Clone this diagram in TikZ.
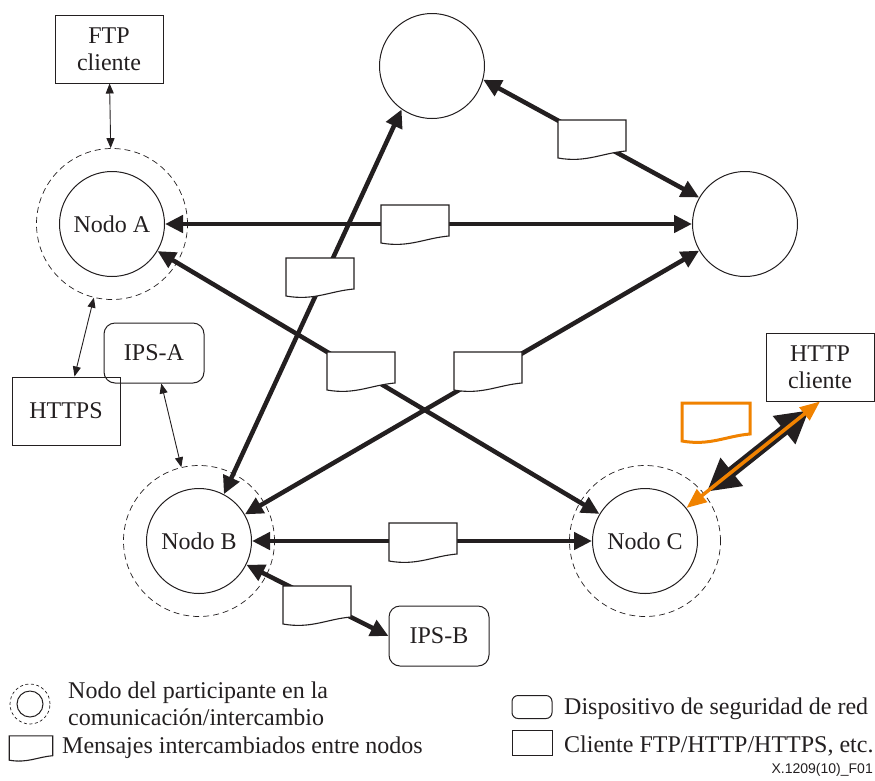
\documentclass[tikz,border=0pt]{standalone}
\usepackage{fontspec}
\setmainfont{Liberation Serif}
\setsansfont{Liberation Sans}
\usetikzlibrary{arrows.meta}
\definecolor{ink}{RGB}{35,31,32}
\definecolor{itorange}{RGB}{240,130,0}

\begin{document}
\begin{tikzpicture}[x=1pt,y=-1pt,color=ink,font=\fontsize{24}{27}\selectfont,
  peer/.style={draw,circle,line width=1pt,minimum size=105pt,inner sep=0pt},
  halo/.style={draw,circle,dash pattern=on 6pt off 4pt,line width=0.7pt,minimum size=151pt,inner sep=0pt},
  client/.style={draw,line width=1pt,minimum width=108pt,minimum height=68pt,align=center,inner sep=0pt},
  ips/.style={draw,line width=1pt,rounded corners=11pt,minimum width=100pt,minimum height=60pt,inner sep=0pt},
  msglink/.style={line width=4.5pt,{Triangle[length=18pt,width=17pt]}-{Triangle[length=18pt,width=17pt]}},
  wire/.style={line width=0.9pt,{Triangle[length=10pt,width=8pt]}-{Triangle[length=10pt,width=8pt]}},
  label/.style={inner sep=0pt,anchor=west,align=left},
  pics/msg/.style={code={
    \draw[fill=white,line width=1.1pt,#1] (-34,-19) -- (34,-19) -- (34,12)
      .. controls (10,14) and (-6,24) .. (-34,19) -- cycle;}}]
  \useasboundingbox (0,0) rectangle (875,780);

  % participants
  \node[peer] (T) at (432,66) {};
  \node[peer] (R) at (745,224) {};
  \node[peer] (A) at (112,224) {Nodo A};
  \node[halo] (Ah) at (112,224) {};
  \node[peer] (B) at (199,541) {Nodo B};
  \node[halo] (Bh) at (199,541) {};
  \node[peer] (C) at (645,541) {Nodo C};
  \node[halo] (Ch) at (645,541) {};

  % clients and security devices
  \node[client] (ftp) at (109,49) {FTP\\cliente};
  \node[client] (https) at (66,411) {HTTPS};
  \node[client] (http) at (820,367) {HTTP\\cliente};
  \node[ips] (ipsa) at (154,353) {IPS-A};
  \node[ips] (ipsb) at (439,636) {IPS-B};

  \draw[wire] (ftp) -- (Ah);
  \draw[wire] (https) -- (Ah);
  \draw[wire] (ipsa) -- (Bh);

  % message exchanges
  \draw[msglink] (T.-15) -- (R.150);
  \draw[msglink] (A) -- (R);
  \draw[msglink] (A) -- (C);
  \draw[msglink] (T.-125) -- (B.62);
  \draw[msglink] (R) -- (B);
  \draw[msglink] (B) -- (C);
  \draw[msglink] (B) -- (ipsb.west);
  \draw[line width=11pt,{Triangle[length=32pt,width=34pt]}-{Triangle[length=32pt,width=34pt]},
    shorten <=26pt,shorten >=14pt] (C) -- (http.south);
  \draw[itorange,line width=3.5pt,{Triangle[length=20pt,width=16pt]}-{Triangle[length=20pt,width=16pt]}]
    (C) -- (http.south);

  \pic at (592,139) {msg};
  \pic at (415,224) {msg};
  \pic at (361,371) {msg};
  \pic at (320,277) {msg};
  \pic at (488,371) {msg};
  \pic at (423,542) {msg};
  \pic at (317,605) {msg};
  \pic at (716,422) {msg={draw=itorange,line width=3pt}};

  % legend
  \node[halo,minimum size=40pt,dash pattern=on 3pt off 2.5pt] (lgh) at (30,704) {};
  \node[peer,minimum size=26pt] (lgn) at (30,704) {};
  \node[label] (lgnt) at (68,704) {Nodo del participante en la\\comunicación/intercambio};
  \pic[scale=0.64] at (31,748) {msg};
  \node[label] (lgmt) at (62,748) {Mensajes intercambiados entre nodos};
  \node[ips,minimum width=40pt,minimum height=23pt,rounded corners=6pt] (lgi) at (532,707) {};
  \node[label] (lgit) at (564,709) {Dispositivo de seguridad de red};
  \node[client,minimum width=40pt,minimum height=25pt] (lgc) at (532,743) {};
  \node[label] (lgct) at (564,746) {Cliente FTP/HTTP/HTTPS, etc.};
  \node[inner sep=0pt,anchor=south east,font=\sffamily\fontsize{14}{16}\selectfont] (fig) at (873,777) {X.1209(10)\_F01};
\end{tikzpicture}
\end{document}
